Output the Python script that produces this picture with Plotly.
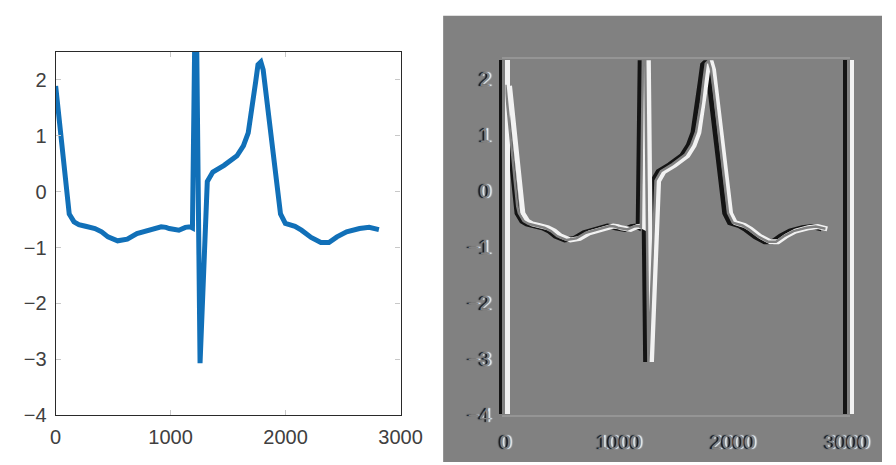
import plotly.graph_objects as go

# ---- data ----
sig_x = [0, 50, 104, 118, 160, 202, 260, 342, 400, 455, 539, 623, 707, 819, 918,
         960, 988, 1072, 1128, 1170, 1190, 1215, 1222, 1256, 1290, 1319, 1367,
         1465, 1577, 1633, 1675, 1717, 1740, 1760, 1785, 1805, 1830, 1858, 1914,
         1956, 1998, 2082, 2138, 2222, 2307, 2377, 2447, 2531, 2643, 2727, 2812]
sig_y = [1.89, 0.90, -0.28, -0.40, -0.54, -0.59, -0.62, -0.66, -0.72, -0.81,
         -0.88, -0.85, -0.75, -0.68, -0.63, -0.64, -0.66, -0.69, -0.64, -0.63,
         -0.65, 3.60, 3.60, -3.07, -1.35, 0.18, 0.35, 0.47, 0.64, 0.82, 1.05,
         1.57, 1.97, 2.27, 2.32, 2.18, 1.78, 1.28, 0.30, -0.40, -0.57, -0.62,
         -0.69, -0.82, -0.91, -0.91, -0.81, -0.72, -0.66, -0.64, -0.68]
x_ticks = [0, 1000, 2000, 3000]
y_ticks = [-4, -3, -2, -1, 0, 1, 2]

W, H = 896, 465
FONT = "Liberation Sans, Arial, sans-serif"
GRAY = "#818181"


def px_x(a, b):
    return [a / W, b / W]


def px_y(top, bottom):
    return [(H - bottom) / H, (H - top) / H]


fig = go.Figure()

# left panel: plain line plot
fig.add_trace(go.Scatter(x=sig_x, y=sig_y, mode="lines",
                         line=dict(color="#1170b8", width=5),
                         xaxis="x", yaxis="y", hoverinfo="skip"))

# right panel: embossed copy (dark shifted left, light shifted right, gray centre on top)
emb = [("2", "#141414", 5, -3.0), ("3", "#f2f2f2", 5, 3.0), ("4", GRAY, 2.5, 0.0)]
for ax, col, w, s in emb:
    fig.add_trace(go.Scatter(x=sig_x, y=sig_y, mode="lines",
                             line=dict(color=col, width=w),
                             xaxis="x" + ax, yaxis="y" + ax, hoverinfo="skip"))

layout = dict(
    width=W, height=H,
    margin=dict(l=0, r=0, t=0, b=0),
    paper_bgcolor="white",
    plot_bgcolor="rgba(0,0,0,0)",
    showlegend=False,
    shapes=[dict(type="rect", xref="paper", yref="paper",
                 x0=443 / W, x1=1, y0=0, y1=(H - 8) / H,
                 fillcolor=GRAY, line=dict(width=0), layer="below")],
)

common_left = dict(showline=True, mirror="ticks", linecolor="#2a2a2a", linewidth=1.2,
                   ticks="inside", ticklen=5, tickcolor="#c8c8c8",
                   showgrid=False, zeroline=False,
                   tickfont=dict(family=FONT, size=20, color="#404040"),
                   ticklabelstandoff=4)
layout["xaxis"] = dict(domain=px_x(43, 399), range=[0, 3000], tickvals=x_ticks,
                       anchor="y", **common_left)
layout["yaxis"] = dict(domain=px_y(45, 417), range=[-4, 2.5], tickvals=y_ticks,
                       anchor="x", **common_left)

XL, XR, YT, YB = 506, 861, 51, 418
for ax, col, w, s in emb:
    centre = ax == "4"
    lab_font = dict(family=FONT, size=20, color=GRAY,
                    shadow="-2px 0px 1px #101010, 2px 0px 1px #f4f4f4")
    layout["xaxis" + ax] = dict(domain=px_x(XL + w / 2 + s, XR - w / 2 + s),
                                range=[0, 3000], tickvals=x_ticks,
                                showline=centre, mirror=True,
                                linecolor="#959595" if centre else col,
                                linewidth=1.5 if centre else w,
                                ticks="", showgrid=False, zeroline=False,
                                anchor="y" + ax, showticklabels=centre,
                                tickfont=lab_font, ticklabelstandoff=8)
    layout["yaxis" + ax] = dict(domain=px_y(YT + w / 2, YB - w / 2),
                                range=[-4, 2.35], tickvals=y_ticks,
                                showline=True, mirror=True, linecolor=col, linewidth=w,
                                ticks="", showgrid=False, zeroline=False,
                                anchor="x" + ax, showticklabels=centre,
                                tickfont=lab_font, ticklabelstandoff=8)

fig.update_layout(**layout)
fig.write_html("out.html")
